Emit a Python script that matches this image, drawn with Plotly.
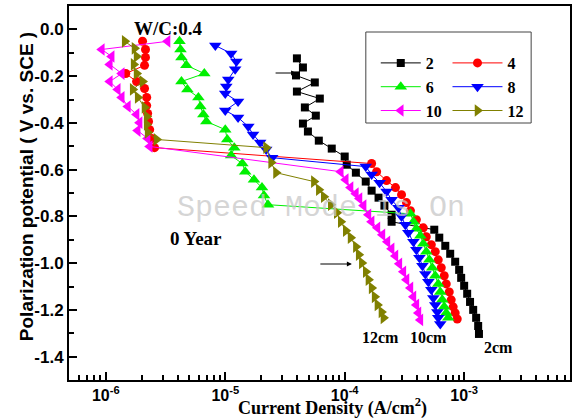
import plotly.graph_objects as go

# ---------------- data (current density A/cm2, potential V vs SCE) ----------------
cur_2 = [3.98e-5, 4.47e-5, 3.91e-5, 5.62e-5, 3.98e-5, 6.19e-5, 4.64e-5, 5.73e-5, 4.47e-5, 4.92e-5,
         6.07e-5, 7.79e-5, 1.00e-4, 1.04e-4, 1.24e-4, 1.50e-4, 1.68e-4, 1.92e-4, 2.15e-4, 2.47e-4,
         2.47e-4, 5.62e-4, 6.19e-4, 6.95e-4, 7.64e-4, 8.41e-4, 9.08e-4, 9.44e-4, 1.00e-3, 1.06e-3,
         1.12e-3, 1.19e-3, 1.26e-3, 1.31e-3, 1.33e-3]
pot_2 = [-0.124, -0.163, -0.197, -0.227, -0.266, -0.296, -0.334, -0.369, -0.403, -0.437,
         -0.476, -0.510, -0.544, -0.579, -0.613, -0.651, -0.690, -0.720, -0.754, -0.793,
         -0.823, -0.857, -0.891, -0.926, -0.960, -0.994, -1.029, -1.063, -1.097, -1.131,
         -1.166, -1.200, -1.234, -1.269, -1.303]

cur_4 = [2.03e-6, 2.15e-6, 2.15e-6, 2.11e-6, 1.47e-6, 1.81e-6, 2.11e-6, 2.20e-6, 2.20e-6, 2.24e-6,
         2.28e-6, 2.33e-6, 2.42e-6, 2.56e-6,
         1.68e-4, 1.85e-4, 2.24e-4, 2.66e-4, 2.99e-4, 3.29e-4, 3.55e-4, 3.98e-4, 4.55e-4, 4.82e-4,
         5.31e-4, 5.73e-4, 6.07e-4, 6.43e-4, 6.81e-4, 7.08e-4, 7.50e-4, 7.79e-4, 8.09e-4, 8.41e-4,
         8.75e-4]
pot_4 = [-0.051, -0.086, -0.120, -0.154, -0.189, -0.223, -0.253, -0.291, -0.326, -0.360,
         -0.394, -0.429, -0.467, -0.506,
         -0.574, -0.609, -0.647, -0.677, -0.707, -0.741, -0.776, -0.814, -0.849, -0.887,
         -0.921, -0.951, -0.986, -1.020, -1.054, -1.089, -1.123, -1.157, -1.187, -1.213,
         -1.239]

cur_6 = [4.14e-6, 4.22e-6, 4.30e-6, 4.73e-6, 6.68e-6, 4.30e-6, 4.82e-6, 5.96e-6, 6.19e-6, 6.56e-6,
         6.95e-6, 1.00e-5, 1.04e-5, 1.19e-5, 1.12e-5, 1.39e-5, 1.47e-5, 1.74e-5, 2.03e-5, 2.11e-5,
         2.28e-5,
         3.55e-4, 3.76e-4, 3.98e-4, 4.30e-4, 4.55e-4, 4.82e-4, 5.11e-4, 5.41e-4, 5.73e-4, 6.07e-4,
         6.31e-4, 6.56e-4, 6.81e-4, 7.08e-4, 7.36e-4]
pot_6 = [-0.051, -0.086, -0.120, -0.154, -0.189, -0.223, -0.257, -0.291, -0.330, -0.364,
         -0.394, -0.429, -0.471, -0.506, -0.540, -0.574, -0.609, -0.643, -0.677, -0.711,
         -0.750,
         -0.789, -0.823, -0.853, -0.883, -0.917, -0.951, -0.986, -1.020, -1.054, -1.089,
         -1.123, -1.157, -1.187, -1.213, -1.234]

cur_8 = [8.26e-6, 1.12e-5, 1.24e-5, 1.21e-5, 1.06e-5, 1.02e-5, 1.00e-5, 1.28e-5, 1.00e-5, 1.28e-5,
         1.56e-5, 1.71e-5, 1.96e-5, 2.20e-5, 2.47e-5,
         1.50e-4, 1.68e-4, 1.96e-4, 2.24e-4, 2.47e-4, 2.82e-4, 2.99e-4, 3.22e-4, 3.41e-4, 3.76e-4,
         3.98e-4, 4.22e-4, 4.47e-4, 4.73e-4, 5.01e-4, 5.31e-4, 5.52e-4, 5.73e-4, 5.96e-4, 6.07e-4,
         6.31e-4]
pot_8 = [-0.069, -0.103, -0.137, -0.171, -0.214, -0.244, -0.274, -0.309, -0.347, -0.377,
         -0.416, -0.450, -0.484, -0.514, -0.549,
         -0.587, -0.621, -0.656, -0.694, -0.729, -0.763, -0.801, -0.836, -0.870, -0.909,
         -0.943, -0.977, -1.011, -1.046, -1.080, -1.114, -1.149, -1.179, -1.209, -1.234,
         -1.260]

cur_10 = [3.29e-6, 9.26e-7, 1.12e-6, 1.08e-6, 1.36e-6, 1.08e-6, 1.26e-6, 1.36e-6, 1.53e-6, 1.81e-6,
          1.92e-6, 1.85e-6, 2.24e-6, 2.33e-6,
          9.26e-5, 1.02e-4, 1.12e-4, 1.24e-4, 1.33e-4, 1.44e-4, 1.58e-4, 1.68e-4, 1.88e-4, 2.07e-4,
          2.28e-4, 2.47e-4, 2.66e-4, 2.87e-4, 3.10e-4, 3.29e-4, 3.55e-4, 3.76e-4, 3.98e-4, 4.14e-4,
          4.30e-4]
pot_10 = [-0.051, -0.086, -0.116, -0.150, -0.189, -0.223, -0.257, -0.291, -0.330, -0.364,
          -0.399, -0.433, -0.467, -0.501,
          -0.609, -0.643, -0.677, -0.703, -0.724, -0.754, -0.793, -0.823, -0.849, -0.879,
          -0.909, -0.939, -0.969, -1.003, -1.037, -1.071, -1.106, -1.144, -1.179, -1.213,
          -1.243]

cur_12 = [1.44e-6, 1.74e-6, 1.81e-6, 1.71e-6, 1.81e-6, 2.03e-6, 1.68e-6, 1.85e-6, 2.11e-6, 2.20e-6,
          2.20e-6, 2.24e-6, 2.66e-6,
          2.20e-5, 2.42e-5, 2.66e-5,
          5.52e-5, 6.07e-5, 6.68e-5, 7.64e-5, 8.58e-5, 9.26e-5, 1.02e-4, 1.12e-4, 1.24e-4, 1.31e-4,
          1.39e-4, 1.50e-4, 1.58e-4, 1.68e-4, 1.78e-4, 1.88e-4, 2.03e-4, 2.11e-4]
pot_12 = [-0.051, -0.081, -0.116, -0.150, -0.189, -0.223, -0.257, -0.291, -0.334, -0.373,
          -0.407, -0.441, -0.471,
          -0.506, -0.570, -0.613,
          -0.651, -0.686, -0.716, -0.750, -0.784, -0.823, -0.861, -0.891, -0.930, -0.964,
          -0.999, -1.037, -1.071, -1.106, -1.144, -1.179, -1.209, -1.234]

x_tick_vals = [1e-6, 1e-5, 1e-4, 1e-3]
x_tick_text = ["10<sup>-6</sup>", "10<sup>-5</sup>", "10<sup>-4</sup>", "10<sup>-3</sup>"]
y_tick_vals = [0.0, -0.2, -0.4, -0.6, -0.8, -1.0, -1.2, -1.4]
y_tick_text = ["0.0", "-0.2", "-0.4", "-0.6", "-0.8", "-1.0", "-1.2", "-1.4"]

# ---------------- styles ----------------
series = [
    ("2", cur_2, pot_2, "#000000", "square", 8, "legend"),
    ("4", cur_4, pot_4, "#ff0000", "circle", 9, "legend2"),
    ("6", cur_6, pot_6, "#00f000", "triangle-up", 11, "legend"),
    ("8", cur_8, pot_8, "#0000ff", "triangle-down", 11, "legend2"),
    ("10", cur_10, pot_10, "#ff00ff", "triangle-left", 11, "legend"),
    ("12", cur_12, pot_12, "#808000", "triangle-right", 11, "legend2"),
]

SERIF = "Times New Roman, Liberation Serif, serif"
SANS = "Arial, Liberation Sans, sans-serif"

fig = go.Figure()
for name, xs, ys, col, sym, size, leg in series:
    fig.add_trace(go.Scatter(
        x=xs, y=ys, name=name, mode="lines+markers", legend=leg,
        line=dict(color=col, width=1),
        marker=dict(symbol=sym, size=size, color=col, line=dict(width=0)),
    ))

W, H = 573, 419
L, R, T, B = 69, 1, 6, 39
pw, ph = W - L - R, H - T - B


def px(xp):
    return (xp - L) / pw


def py(yp):
    return (H - B - yp) / ph


minor_x = [m * 10 ** e for e in range(-7, -2) for m in range(2, 10)]
minor_y = [-1.3, -1.1, -0.9, -0.7, -0.5, -0.3, -0.1]

fig.update_xaxes(
    type="log", range=[-6.308, -2.114], showgrid=False, zeroline=False,
    showline=True, linecolor="black", linewidth=2, mirror=True,
    ticks="inside", ticklen=8, tickwidth=1.5, tickcolor="black",
    tickvals=x_tick_vals, ticktext=x_tick_text,
    tickfont=dict(family=SANS, size=16, color="black", weight="bold"),
    minor=dict(ticks="inside", ticklen=5, tickwidth=1.5, tickcolor="black", tickvals=minor_x, showgrid=False),
)
fig.update_yaxes(
    range=[-1.5, 0.1], showgrid=False, zeroline=False,
    showline=True, linecolor="black", linewidth=2, mirror=True,
    ticks="inside", ticklen=8, tickwidth=1.5, tickcolor="black",
    tickvals=y_tick_vals, ticktext=y_tick_text,
    tickfont=dict(family=SANS, size=17, color="black", weight="bold"),
    minor=dict(ticks="inside", ticklen=5, tickwidth=1.5, tickcolor="black", tickvals=minor_y, showgrid=False),
)

legend_font = dict(family=SERIF, size=16, color="black", weight="bold")
fig.update_layout(
    width=W, height=H, margin=dict(l=L, r=R, t=T, b=B),
    paper_bgcolor="white", plot_bgcolor="white",
    legend=dict(x=px(377), y=py(46), xanchor="left", yanchor="top", bgcolor="rgba(0,0,0,0)",
                borderwidth=0, font=legend_font, itemwidth=40, tracegroupgap=0),
    legend2=dict(x=px(449), y=py(46), xanchor="left", yanchor="top", bgcolor="rgba(0,0,0,0)",
                 borderwidth=0, font=legend_font, itemwidth=50, tracegroupgap=0),
    shapes=[dict(type="rect", xref="paper", yref="paper", x0=px(367), x1=px(533), y0=py(123), y1=py(32),
                 line=dict(color="#444444", width=1), fillcolor="rgba(0,0,0,0)")],
)

ann = [
    ("Speed Mode is On", 322, 208, dict(family="Courier New, Liberation Mono, monospace", size=30, color="rgba(200,200,200,0.75)")),
    ("W/C:0.4", 169, 28, dict(family=SERIF, size=19, color="black", weight="bold")),
    ("0 Year", 197, 238, dict(family=SERIF, size=19, color="black", weight="bold")),
    ("12cm", 382, 337, dict(family=SERIF, size=16, color="black", weight="bold")),
    ("10cm", 430, 337, dict(family=SERIF, size=16, color="black", weight="bold")),
    ("2cm", 500, 347, dict(family=SERIF, size=16, color="black", weight="bold")),
    ("Current Density (A/cm<sup>2</sup>)", 334, 407, dict(family=SERIF, size=18, color="black", weight="bold")),
]
for text, xx, yy, f in ann:
    fig.add_annotation(text=text, x=px(xx), y=py(yy), xref="paper", yref="paper",
                       xanchor="center", yanchor="middle", showarrow=False, font=f)

fig.add_annotation(text="Polarization potential ( V vs. SCE )", x=px(26), y=py(187), xref="paper", yref="paper",
                   xanchor="center", yanchor="middle", showarrow=False, textangle=-90,
                   font=dict(family=SANS, size=19, color="black", weight="bold"))

# arrows
for tipx, tipy, tail in [(297, 73, -22), (353, 264, -33)]:
    fig.add_annotation(text="", x=px(tipx), y=py(tipy), xref="paper", yref="paper",
                       showarrow=True, ax=tail, ay=0, arrowhead=2, arrowsize=1, arrowwidth=1,
                       arrowcolor="black", standoff=0)

fig.write_html("out.html", config={"displayModeBar": False},
               post_script="document.body.style.margin='0';document.body.style.padding='0';"
                           "document.body.style.overflow='hidden';")
